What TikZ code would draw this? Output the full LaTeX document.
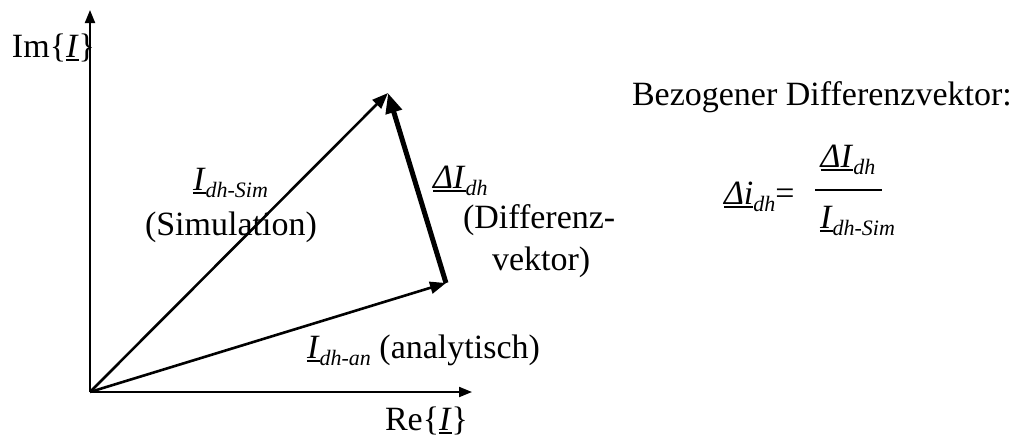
\documentclass[tikz,border=0pt]{standalone}
\usepackage{fontspec}
\setmainfont{Liberation Serif}
\usetikzlibrary{arrows.meta}
\newsavebox\ulbox
\newcommand\myul[1]{\sbox\ulbox{#1}\rlap{\rule[-4pt]{\wd\ulbox}{2pt}}\usebox\ulbox}
\newcommand\mysub[1]{\raisebox{-7pt}{\fontsize{22}{22}\selectfont\itshape #1}}
\begin{document}
\begin{tikzpicture}[x=1pt,y=-1pt,
  every node/.style={font=\fontsize{34}{40}\selectfont, inner sep=0pt, outer sep=0pt},
  lab/.style={anchor=base west},
  axis/.style={line width=2pt, -{Triangle[length=13pt,width=10pt]}},
  vec/.style={line width=2.6pt, -{Triangle[length=16pt,width=12pt]}},
  dvec/.style={line width=5pt, -{Triangle[length=20pt,width=16pt]}}]
\useasboundingbox (0,0) rectangle (1023,437);
% points
\coordinate (O) at (90,392);
\coordinate (Ytop) at (90,10);
\coordinate (Xend) at (472,392);
\coordinate (S) at (388,93);
\coordinate (A) at (446,283);
% axes
\draw[axis] (O) -- (Ytop);
\draw[axis] (O) -- (Xend);
% vectors
\draw[vec] (O) -- (S);
\draw[vec] (O) -- (A);
\draw[dvec] (A) -- (S);
% labels
\node[lab] (imlab) at (12,57) {Im\{\myul{\textit{I}}\}};
\node[lab] (relab) at (385,430) {Re\{\myul{\textit{I}}\}};
\node[lab] (simlab) at (193,190) {\myul{\textit{I}}\mysub{dh-Sim}};
\node[lab] (simtxt) at (145,235) {(Simulation)};
\node[lab] (dlab) at (433,188) {\myul{\textit{ΔI}}\mysub{dh}};
\node[lab] (dtxt1) at (463,228) {(Differenz-};
\node[lab] (dtxt2) at (492,270) {vektor)};
\node[lab] (anlab) at (307,358) {\myul{\textit{I}}\mysub{dh-an} (analytisch)};
\node[lab] (title) at (632,105) {Bezogener Differenzvektor:};
% formula
\node[lab] (lhs) at (724,204) {\myul{\textit{Δi}}\mysub{dh}=};
\node[anchor=base] (num) at (848,167) {\myul{\textit{ΔI}}\mysub{dh}};
\node[anchor=base west] (den) at (820,228) {\myul{\textit{I}}\mysub{dh-Sim}};
\coordinate (barL) at (815,190);
\coordinate (barR) at (882,190);
\draw[line width=2pt] (barL) -- (barR);
\end{tikzpicture}
\end{document}
